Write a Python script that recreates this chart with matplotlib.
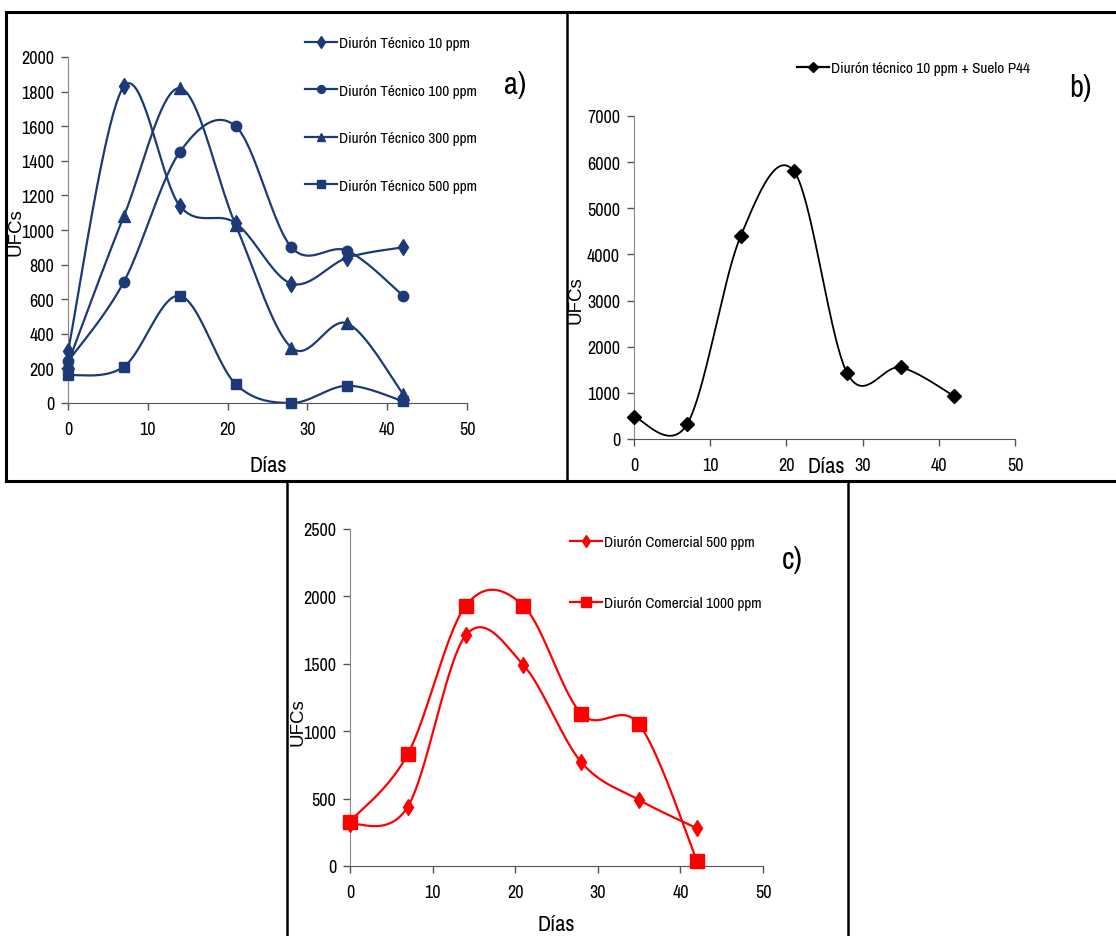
import numpy as np
import matplotlib
matplotlib.use("Agg")
import matplotlib.pyplot as plt
from matplotlib.lines import Line2D
from matplotlib.font_manager import fontManager

# ---------------- data ----------------
dias = [0, 7, 14, 21, 28, 35, 42]

a_labels = ["Diurón Técnico 10 ppm", "Diurón Técnico 100 ppm",
            "Diurón Técnico 300 ppm", "Diurón Técnico 500 ppm"]
a_10 = [300, 1830, 1140, 1040, 690, 840, 900]
a_100 = [240, 700, 1450, 1600, 900, 880, 620]
a_300 = [230, 1080, 1820, 1030, 320, 460, 50]
a_500 = [160, 210, 620, 110, 0, 100, 10]

b_label = "Diurón técnico 10 ppm + Suelo P44"
b_10 = [480, 330, 4400, 5800, 1420, 1550, 930]

c_labels = ["Diurón Comercial 500 ppm", "Diurón Comercial 1000 ppm"]
c_500 = [310, 440, 1710, 1490, 770, 490, 280]
c_1000 = [330, 830, 1930, 1930, 1130, 1050, 40]

xticks = [0, 10, 20, 30, 40, 50]
a_yticks = [0, 200, 400, 600, 800, 1000, 1200, 1400, 1600, 1800, 2000]
b_yticks = [0, 1000, 2000, 3000, 4000, 5000, 6000, 7000]
c_yticks = [0, 500, 1000, 1500, 2000, 2500]

# ---------------- style ----------------
names = {f.name for f in fontManager.ttflist}
NARROW = "Archivo Narrow" if "Archivo Narrow" in names else "Liberation Sans"
REG = "Liberation Sans"
NAVY = "#1d3a78"
RED = "#ff0000"
GRAY = "#888888"
LEGSIZE = 11

W, H = 1116, 937
fig = plt.figure(figsize=(W / 100, H / 100), dpi=100)


def fx(px):
    return px / W


def fy(py):
    return 1 - py / H


def smooth(x, y, n=40):
    x = np.asarray(x, float)
    y = np.asarray(y, float)
    P = np.column_stack([x, y])
    Pe = np.vstack([P[0], P, P[-1]])
    out = []
    t = np.linspace(0, 1, n)[:, None]
    for i in range(len(P) - 1):
        p0, p1, p2, p3 = Pe[i], Pe[i + 1], Pe[i + 2], Pe[i + 3]
        c1 = p1 + (p2 - p0) / 6
        c2 = p2 - (p3 - p1) / 6
        seg = ((1 - t) ** 3) * p1 + 3 * ((1 - t) ** 2) * t * c1 + 3 * (1 - t) * t ** 2 * c2 + t ** 3 * p2
        out.append(seg if i == 0 else seg[1:])
    s = np.vstack(out)
    return s[:, 0], s[:, 1]


def make_axes(l, r, b, t, yticks, ymax):
    ax = fig.add_axes([fx(l), fy(b), fx(r) - fx(l), fy(t) - fy(b)])
    ax.set_xlim(0, 50)
    ax.set_ylim(0, ymax)
    ax.set_xticks(xticks)
    ax.set_yticks(yticks)
    for s in ["top", "right"]:
        ax.spines[s].set_visible(False)
    ax.spines["left"].set_color(GRAY)
    ax.spines["bottom"].set_color("#555555")
    ax.tick_params(axis="both", colors="#555555", length=5, width=1,
                   labelcolor="black", labelsize=13)
    for lab in ax.get_xticklabels() + ax.get_yticklabels():
        lab.set_fontfamily(NARROW)
    ax.tick_params(axis="x", pad=8)
    ax.tick_params(axis="y", pad=5)
    ax.patch.set_alpha(0)
    return ax


def series(ax, y, color, marker, ms, lw=1.6):
    xs, ys = smooth(dias, y)
    ax.plot(xs, ys, color=color, lw=lw, clip_on=False, zorder=2)
    ax.plot(dias, y, ls="none", marker=marker, ms=ms, color=color, clip_on=False, zorder=3)


def handle(color, marker, ms):
    return Line2D([0], [0], color=color, lw=1.6, marker=marker, ms=ms)


def ylab(ax, px, py):
    ax.set_ylabel("UFCs", fontsize=13.5, family=REG)
    inv = ax.transAxes.inverted()
    ax.yaxis.set_label_coords(*inv.transform((px, H - py)))


def legend(ax, handles, labels, px, py, spacing):
    ax.legend(handles, labels, loc="upper left", bbox_to_anchor=(fx(px), fy(py)),
              bbox_transform=fig.transFigure, frameon=False,
              prop={"family": NARROW, "size": LEGSIZE}, labelspacing=spacing,
              handlelength=2.1, handletextpad=0.15, borderpad=0, borderaxespad=0)


# ---------------- panel a ----------------
axa = make_axes(68, 467, 404, 58, a_yticks, 2000)
a_specs = [(a_10, "d", 8), (a_100, "o", 7.5), (a_300, "^", 8), (a_500, "s", 7.5)]
for vals, mk, ms in a_specs:
    series(axa, vals, NAVY, mk, ms)
fig.text(fx(268), fy(466), "Días", fontsize=16, family=NARROW, ha="center", va="center")
ylab(axa, 24, 232)
legend(axa, [handle(NAVY, mk, ms * 0.75) for _, mk, ms in a_specs], a_labels, 305, 37, 2.2)
fig.text(fx(515), fy(85), "a)", fontsize=22, family=NARROW, ha="center", va="center")

# ---------------- panel b ----------------
axb = make_axes(634, 1015, 440, 117, b_yticks, 7000)
series(axb, b_10, "black", "D", 7, lw=1.3)
ylab(axb, 585, 300)
fig.text(fx(826), fy(467), "Días", fontsize=16, family=NARROW, ha="center", va="center")
legend(axb, [handle("black", "D", 5)], [b_label], 797, 62, 1.0)
fig.text(fx(1080), fy(88), "b)", fontsize=22, family=NARROW, ha="center", va="center")

# ---------------- panel c ----------------
axc = make_axes(350, 763, 867, 530, c_yticks, 2500)
series(axc, c_500, RED, "d", 8)
series(axc, c_1000, RED, "s", 9.5)
fig.text(fx(556), fy(925), "Días", fontsize=16, family=NARROW, ha="center", va="center")
ylab(axc, 306, 722)
legend(axc, [handle(RED, "d", 6), handle(RED, "s", 7)], c_labels, 570, 536, 3.1)
fig.text(fx(792), fy(560), "c)", fontsize=22, family=NARROW, ha="center", va="center")

# ---------------- panel borders ----------------
def fline(xs, ys, lw=2.2):
    fig.add_artist(Line2D([fx(v) for v in xs], [fy(v) for v in ys],
                          color="black", lw=lw, transform=fig.transFigure))

fline([6, 1116], [13, 13])
fline([6, 6], [13, 482])
fline([6, 1116], [482, 482])
fline([567, 567], [13, 482], lw=1.8)
fline([287, 287], [482, 937], lw=1.8)
fline([848, 848], [482, 937], lw=1.8)

fig.savefig("out.png", dpi=100)
